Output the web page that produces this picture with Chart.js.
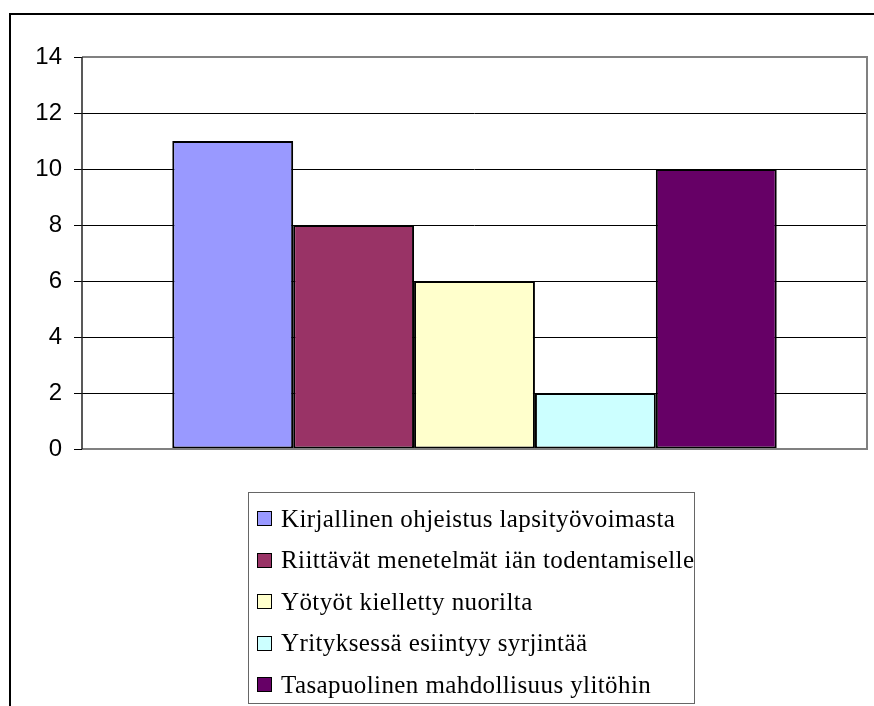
<!DOCTYPE html>
<html lang="fi">
<head>
<meta charset="UTF-8">
<title>Kaavio</title>
<script src="https://cdn.jsdelivr.net/npm/chart.js"></script>
<style>
    body { margin: 0; background: #fff; }
    #wrap { position: relative; width: 874px; height: 706px; overflow: hidden; }
    #frame { position: absolute; left: 9px; top: 13px; width: 880px; height: 720px;
             border-top: 2px solid #000; border-left: 2px solid #000; }
    #chartBox { position: absolute; left: 0; top: 0; width: 874px; height: 706px; }
    #legend { position: absolute; left: 248px; top: 492px; width: 447px; height: 212px;
              border: 1px solid #666; box-sizing: border-box; padding-top: 5px;
              font-family: "Liberation Serif", "Times New Roman", serif; font-size: 25px;
              letter-spacing: 0.4px; color: #000; }
    #legend .item { height: 41.5px; display: flex; align-items: center; padding-left: 8px; white-space: nowrap; }
    #legend .box { width: 13px; height: 13px; border: 1px solid #000; margin-right: 9px; flex: none; }
</style>
</head>
<body>
<div id="wrap">
    <div id="frame"></div>
    <div id="chartBox"><canvas id="chart"></canvas></div>
    <div id="legend"></div>
</div>

<script>
    const categories = [''];
    const seriesNames = [
        'Kirjallinen ohjeistus lapsityövoimasta',
        'Riittävät menetelmät iän todentamiselle',
        'Yötyöt kielletty nuorilta',
        'Yrityksessä esiintyy syrjintää',
        'Tasapuolinen mahdollisuus ylitöhin'
    ];
    const seriesValues = [11, 8, 6, 2, 10];
    const seriesColors = ['#9999FF', '#993366', '#FFFFCC', '#CCFFFF', '#660066'];
    const yTicks = [0, 2, 4, 6, 8, 10, 12, 14];

    // harmaa kehys piirtoalueen ympärille
    const plotBorder = {
        id: 'plotBorder',
        afterDraw(chart) {
            const a = chart.chartArea;
            const ctx = chart.ctx;
            ctx.save();
            ctx.strokeStyle = '#808080';
            ctx.lineWidth = 2;
            ctx.beginPath();
            ctx.moveTo(a.left, a.top);
            ctx.lineTo(a.right, a.top);
            ctx.lineTo(a.right, a.bottom);
            ctx.lineTo(a.left, a.bottom);
            ctx.stroke();
            ctx.strokeStyle = '#222';
            ctx.lineWidth = 1.5;
            ctx.beginPath();
            ctx.moveTo(a.left, a.top);
            ctx.lineTo(a.left, a.bottom);
            ctx.stroke();
            ctx.restore();
        }
    };

    const datasets = seriesNames.map((name, i) => ({
        label: name,
        data: [seriesValues[i]],
        backgroundColor: seriesColors[i],
        borderColor: '#000',
        borderWidth: 2,
        borderSkipped: false,
        categoryPercentage: 0.77,
        barPercentage: 1
    }));

    new Chart(document.getElementById('chart'), {
        type: 'bar',
        data: { labels: categories, datasets: datasets },
        options: {
            responsive: true,
            maintainAspectRatio: false,
            animation: false,
            layout: { padding: { left: 10, top: 57, right: 7, bottom: 257 } },
            scales: {
                x: { display: false },
                y: {
                    min: 0,
                    max: 14,
                    afterFit(scale) { scale.width = 72; },
                    afterBuildTicks(scale) { scale.ticks = yTicks.map(v => ({ value: v })); },
                    border: { display: false },
                    grid: {
                        color: ctx => (ctx.tick && (ctx.tick.value === 0 || ctx.tick.value === 14)) ? '#808080' : '#000',
                        lineWidth: 1,
                        tickLength: 8,
                        tickColor: '#000'
                    },
                    ticks: {
                        color: '#000',
                        padding: 12,
                        font: { family: 'Liberation Sans, Arial, sans-serif', size: 24 }
                    }
                }
            },
            plugins: {
                legend: { display: false },
                tooltip: { enabled: false }
            }
        },
        plugins: [plotBorder]
    });

    const legend = document.getElementById('legend');
    seriesNames.forEach((name, i) => {
        const row = document.createElement('div');
        row.className = 'item';
        const box = document.createElement('span');
        box.className = 'box';
        box.style.background = seriesColors[i];
        row.appendChild(box);
        row.appendChild(document.createTextNode(name));
        legend.appendChild(row);
    });
</script>
</body>
</html>
